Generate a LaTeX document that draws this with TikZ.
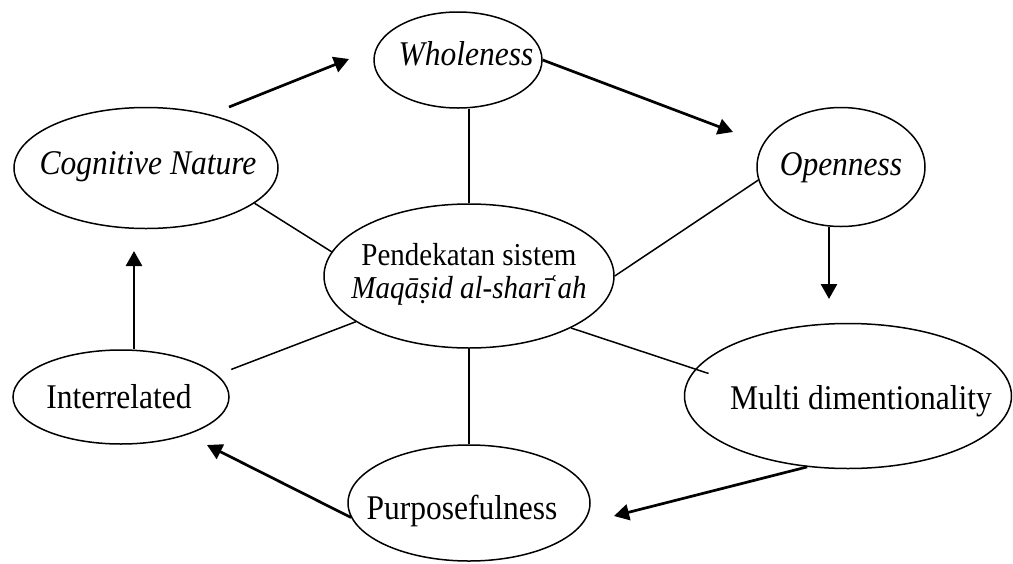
\documentclass[tikz,border=0pt]{standalone}
\usepackage{graphicx}
\usepackage{fontspec}
\setmainfont{Liberation Serif}
\usetikzlibrary{shapes.geometric,arrows.meta}
\newcommand\mytxt[3]{\makebox[0pt]{\kern#1\raisebox{#2}[0pt][0pt]{\scalebox{1}[1.1]{#3}}}}
\tikzset{
  ell/.style={ellipse, draw, line width=1.5pt, inner sep=0pt, font=\fontsize{31.5}{36}\selectfont},
  conn/.style={line width=1.5pt},
  arr/.style={line width=2.7pt, -{Triangle[width=16pt,length=15pt]}}
}
\begin{document}
\begin{tikzpicture}[x=1pt,y=-1pt]
\useasboundingbox (0,0) rectangle (1013,563);
\node[ell, minimum width=168pt, minimum height=96pt] (who) at (458,60) {\mytxt{16pt}{-5pt}{\itshape Wholeness}};
\node[ell, minimum width=264pt, minimum height=121pt] (cog) at (146,168) {\mytxt{4pt}{-6pt}{\itshape Cognitive Nature}};
\node[ell, minimum width=168pt, minimum height=119pt] (opn) at (841,167) {\mytxt{0pt}{-8pt}{\itshape Openness}};
\node[ell, minimum width=290pt, minimum height=144pt, font=\fontsize{29}{33}\selectfont] (cen) at (469,276) {\mytxt{0pt}{11pt}{Pendekatan sistem}\mytxt{0pt}{-22pt}{\itshape Maqāṣid al-sharī\kern-4pt ʿah}};
\node[ell, minimum width=216pt, minimum height=94pt] (int) at (121,397) {\mytxt{-4pt}{-11pt}{Interrelated}};
\node[ell, minimum width=327pt, minimum height=145pt] (mul) at (848,396) {\mytxt{26pt}{-13pt}{Multi dimentionality}};
\node[ell, minimum width=242pt, minimum height=116pt] (pur) at (469,503) {\mytxt{-14pt}{-16pt}{Purposefulness}};

% spokes
\draw[conn] (cen.north) -- (cen.north |- who.south);
\draw[conn] (cog.-18) -- (cen.170);
\draw[conn] (opn.189) -- (cen.0);
\draw[conn, shorten >=15pt] (cen.202) -- (int.13);
\draw[conn, shorten >=-14pt] (cen.-27) -- (mul.170);
\draw[conn] (cen.south) -- (pur.north);

% cycle arrows
\coordinate (a1s) at (229,107);
\coordinate (a1e) at (349,59);
\coordinate (a2e) at (733,132);
\coordinate (a3e) at (829,299);
\coordinate (a4e) at (614,516);
\coordinate (a5e) at (207,445);
\coordinate (a6e) at (134,251);
\draw[arr] (a1s) -- (a1e);
\draw[arr] (who.east) -- (a2e);
\draw[arr] (opn.south -| a3e) -- (a3e);
\draw[arr] (mul.-120) -- (a4e);
\draw[arr] (pur.187) -- (a5e);
\draw[arr] (int.north -| a6e) -- (a6e);
\end{tikzpicture}
\end{document}
